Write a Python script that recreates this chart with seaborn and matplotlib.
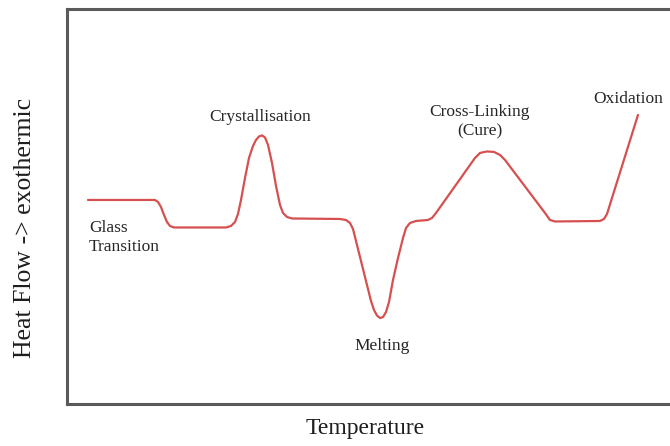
import matplotlib
matplotlib.use("Agg")
import matplotlib.pyplot as plt
import seaborn as sns
import pandas as pd

# Idealised DSC thermogram: temperature (arbitrary units) vs heat flow (arbitrary units)
temperature = [21, 88, 91, 94, 97, 100, 103, 107, 159, 164, 168, 171, 174, 178, 182,
               186, 189, 192, 195, 198, 201, 205, 209, 213, 216, 220, 225, 273, 279,
               283, 286, 290, 295, 300, 304, 307, 310, 313, 316, 319, 322, 326, 331,
               336, 339, 343, 349, 361, 365, 369, 408, 413, 420, 427, 433, 438, 478,
               483, 488, 533, 537, 540, 571]
heat_flow = [204, 204, 202, 197, 189, 182, 178, 176.5, 176.5, 178, 182, 190, 204, 226,
             246, 258, 264, 267.5, 268.5, 266.5, 259, 241, 218, 199, 191, 187, 185.5,
             185, 184, 181, 175, 159, 139, 119, 103, 94, 88.5, 86, 87, 92, 102, 124,
             146, 166, 176, 181, 183, 184, 186, 191, 246, 251, 252.5, 252, 249, 244,
             191, 184, 182.5, 183, 185, 190, 289]

annotations = ["Glass\nTransition", "Crystallisation", "Cross-Linking\n(Cure)",
               "Melting", "Oxidation"]
annotation_pos = [(22, 166), (193, 287), (413, 282), (315, 58), (561, 305)]
annotation_align = ["left", "center", "center", "center", "center"]

df = pd.DataFrame({"Temperature": temperature, "Heat Flow": heat_flow})

sns.set_theme(style="white")
plt.rcParams["font.family"] = ["Liberation Serif", "DejaVu Serif"]

fig = plt.figure(figsize=(6.7, 4.46), dpi=100)
ax = fig.add_axes([0.1, 0.094, 0.9, 0.885])

sns.lineplot(data=df, x="Temperature", y="Heat Flow", sort=False, estimator=None,
             color="#d65050", linewidth=1.6, ax=ax)

ax.set_xlim(0, 603)
ax.set_ylim(0, 394.5)
ax.set_xticks([])
ax.set_yticks([])

for side in ["left", "top", "bottom"]:
    ax.spines[side].set_color("#5a5a5a")
    ax.spines[side].set_linewidth(2.2)
ax.spines["right"].set_visible(False)

for text, (tx, ty), ha in zip(annotations, annotation_pos, annotation_align):
    ax.text(tx, ty, text, ha=ha, va="center", fontsize=12.5, color="#262626",
            linespacing=1.25, multialignment="center" if ha == "center" else "left")

ax.set_xlabel("Temperature", fontsize=17, color="#1e1e1e")
ax.set_ylabel("Heat Flow -> exothermic", fontsize=18.5, color="#1e1e1e")
ax.xaxis.set_label_coords(0.494, -0.035)
ax.yaxis.set_label_coords(-0.052, 0.445)

fig.savefig("out.png", dpi=100)
